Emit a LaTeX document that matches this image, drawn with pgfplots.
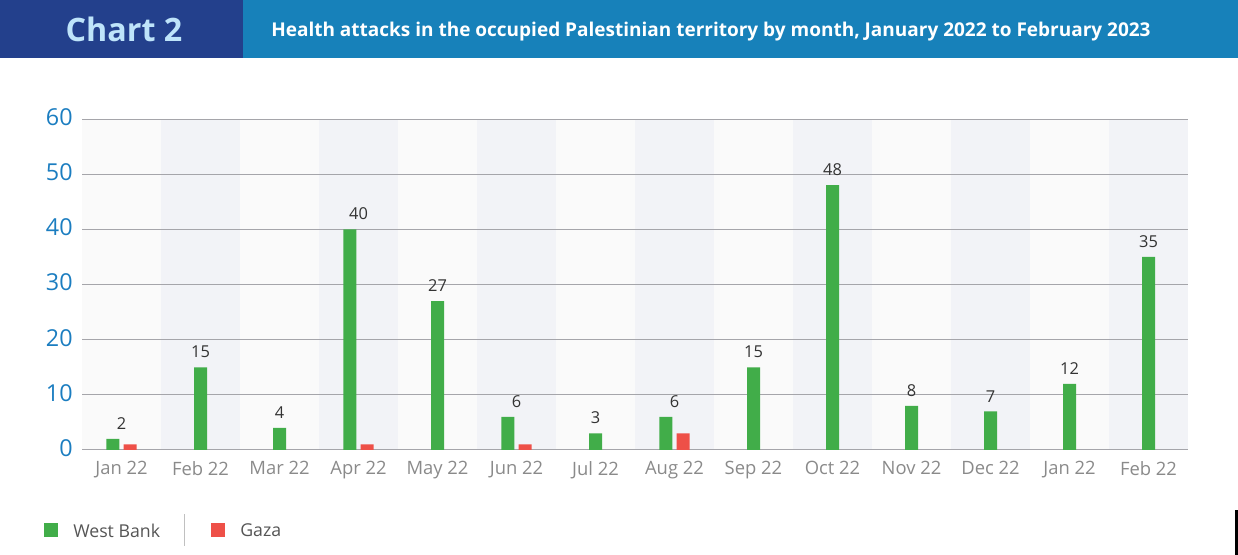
\documentclass[border=0pt]{standalone}
\usepackage{fontspec}
\setmainfont{Open Sans}
\usepackage{pgfplots}
\pgfplotsset{compat=1.18}
\definecolor{hdrdark}{RGB}{35,64,140}
\definecolor{hdrblue}{RGB}{23,129,186}
\definecolor{hdrtext}{RGB}{190,228,250}
\definecolor{wbgreen}{RGB}{65,173,73}
\definecolor{gzred}{RGB}{238,80,72}
\definecolor{ytxt}{RGB}{27,125,192}
\definecolor{xtxt}{RGB}{138,138,138}
\definecolor{gridc}{RGB}{165,165,170}
\definecolor{bandA}{RGB}{250,250,250}
\definecolor{bandB}{RGB}{242,243,247}
\definecolor{lbl}{RGB}{51,51,51}
\definecolor{legtxt}{RGB}{85,85,85}
\definecolor{sepc}{RGB}{192,192,192}
\begin{document}
\begin{tikzpicture}
\begin{scope}[x=0.75pt,y=-0.75pt]
\path[use as bounding box] (0,0) rectangle (1238,555);
\fill[hdrblue] (243,0) rectangle (1238,58);
\fill[hdrdark] (0,0) rectangle (243,58);
\node[text=hdrtext, font=\fontsize{24.2}{29}\selectfont\bfseries] at (124,29) {Chart 2};
\node[anchor=west, text=white, font=\fontsize{14.25}{17}\selectfont\bfseries, inner sep=0] at (271,32) {Health attacks in the occupied Palestinian territory by month, January 2022 to February 2023};
\end{scope}
\begin{axis}[
  set layers=standard,
  at={(61.5pt,-337.5pt)}, anchor=south west,
  scale only axis, width=829.5pt, height=248.25pt,
  xmin=-0.5, xmax=13.5, ymin=0, ymax=60,
  xtick={0,...,13},
  xticklabels={Jan 22,Feb 22,Mar 22,Apr 22,May 22,Jun 22,Jul 22,Aug 22,Sep 22,Oct 22,Nov 22,Dec 22,Jan 22,Feb 22},
  ytick={0,10,...,60},
  /pgf/number format/assume math mode=true,
  ymajorgrids, grid style={gridc, line width=0.75pt},
  axis line style={draw=none},
  major tick length=0pt,
  tick style={draw=none},
  yticklabel style={font=\fontsize{17.5}{20}\selectfont, text=ytxt, xshift=-3.5pt, yshift=1.5pt},
  xticklabel style={font=\fontsize{13.8}{16}\selectfont, text=xtxt, yshift=-5pt},
  clip=false,
]
\begin{pgfonlayer}{axis background}
\pgfplotsinvokeforeach{0,2,...,12}{\fill[bandA] (axis cs:#1-0.5,0) rectangle (axis cs:#1+0.5,60);}
\pgfplotsinvokeforeach{1,3,...,13}{\fill[bandB] (axis cs:#1-0.5,0) rectangle (axis cs:#1+0.5,60);}
\end{pgfonlayer}
% West Bank, months that also have Gaza attacks (shifted left)
\addplot[ybar, bar width=9.75pt, bar shift=-6.4pt, fill=wbgreen, draw=none,
  nodes near coords, nodes near coords style={font=\fontsize{12.3}{14}\selectfont, text=lbl, yshift=3.5pt}]
  coordinates {(0,2) (3,40) (5,6) (7,6)};
% West Bank, months with no Gaza attacks (centred)
\addplot[ybar, bar width=9.75pt, bar shift=0pt, fill=wbgreen, draw=none,
  nodes near coords, nodes near coords style={font=\fontsize{12.3}{14}\selectfont, text=lbl, yshift=3.5pt}]
  coordinates {(1,15) (2,4) (4,27) (6,3) (8,15) (9,48) (10,8) (11,7) (12,12) (13,35)};
% Gaza
\addplot[ybar, bar width=9.75pt, bar shift=6.4pt, fill=gzred, draw=none]
  coordinates {(0,1) (3,1) (5,1) (7,3)};
\end{axis}
\begin{scope}[x=0.75pt,y=-0.75pt]
\fill[wbgreen] (44,523) rectangle (58,537);
\node[anchor=west, text=legtxt, font=\fontsize{13.3}{16}\selectfont, inner sep=0] at (73,530.5) {West Bank};
\draw[sepc, line width=0.75pt] (184,514) -- (184,546);
\fill[gzred] (211,523) rectangle (225,537);
\node[anchor=west, text=legtxt, font=\fontsize{13.3}{16}\selectfont, inner sep=0] at (240,530.5) {Gaza};
\fill[black] (1235,510) rectangle (1238,555);
\end{scope}
\end{tikzpicture}
\end{document}
